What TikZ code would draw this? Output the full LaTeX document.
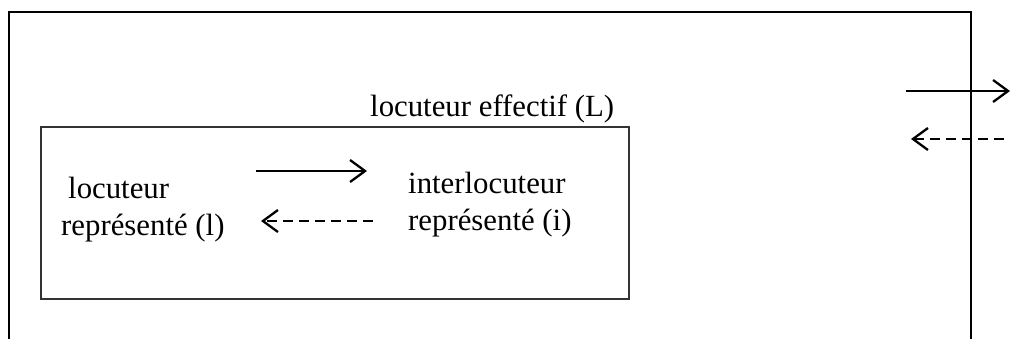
\documentclass[tikz,border=0pt]{standalone}
\usepackage{fontspec}
\setmainfont{Liberation Serif}
\usetikzlibrary{arrows.meta}
\begin{document}
\begin{tikzpicture}[x=1pt,y=1pt,
  lbl/.style={anchor=base west,inner sep=0pt,font=\fontsize{30.8}{37}\selectfont,align=left},
  frame/.style={line width=2.2pt,line cap=rect},
  inbox/.style={line width=1.6pt,draw=black!80},
  arr/.style={line width=2.3pt,-{Straight Barb[length=15pt,width=22pt,line width=2.3pt]}},
  darr/.style={arr,dash pattern=on 10pt off 6pt}]
\useasboundingbox (0,0) rectangle (1011,-338);
% outer frame (open at bottom)
\coordinate (o1) at (9,-340);
\coordinate (o2) at (9,-12);
\coordinate (o3) at (971,-12);
\coordinate (o4) at (971,-340);
\draw[frame] (o1) -- (o2) -- (o3) -- (o4);
% inner box
\node[draw,inbox,minimum width=588pt,minimum height=172pt,inner sep=0pt,anchor=north west] (inner) at (40,-126) {};
% labels
\node[lbl] (L) at (370,-116) {locuteur effectif (L)};
\node[lbl] (l1) at (68,-198) {locuteur};
\node[lbl] (l2) at (61,-235) {représenté (l)};
\node[lbl] (i1) at (408,-193) {interlocuteur};
\node[lbl] (i2) at (408,-230) {représenté (i)};
% inner arrows
\coordinate (a1) at (256,-171);
\coordinate (a2) at (367,-171);
\coordinate (b1) at (373,-221);
\coordinate (b2) at (261,-221);
\draw[arr] (a1) -- (a2);
\draw[darr] (b1) -- (b2);
% outer arrows
\coordinate (c1) at (906,-91);
\coordinate (c2) at (1010,-91);
\coordinate (d1) at (1004,-139);
\coordinate (d2) at (911,-139);
\draw[arr] (c1) -- (c2);
\draw[darr] (d1) -- (d2);
\end{tikzpicture}
\end{document}
